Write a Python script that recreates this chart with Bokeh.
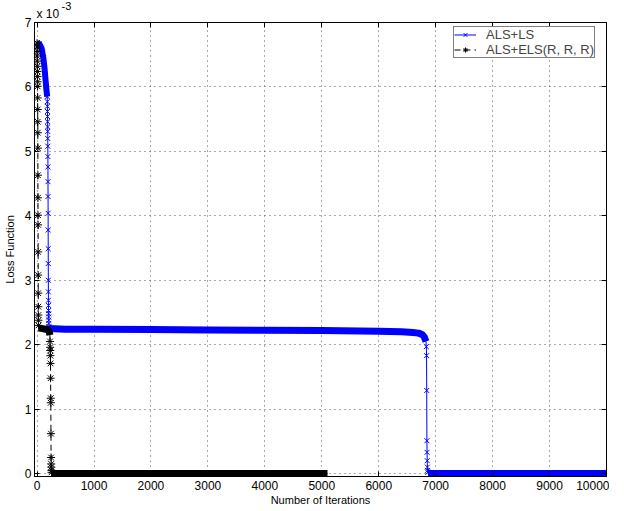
from bokeh.plotting import figure
from bokeh.models import LinearAxis, Range1d, Legend, LegendItem, FixedTicker, Title
from bokeh.embed import file_html
from bokeh.resources import INLINE

FONT = "Liberation Sans"

# ---------------- data ----------------
x_ticks = [0, 1000, 2000, 3000, 4000, 5000, 6000, 7000, 8000, 9000, 10000]
y_ticks = [0, 1, 2, 3, 4, 5, 6, 7]

# ALS+LS (blue)
ls_top_iter = [0, 40, 80, 110, 130, 150, 165, 178]
ls_top_loss = [6.68, 6.67, 6.60, 6.45, 6.30, 6.10, 5.95, 5.85]
ls_drop_iter = [181, 182, 183, 184, 185, 186, 187, 188, 189, 190, 191, 192, 193, 194,
                195, 196, 197, 198, 199, 200, 201, 202, 203, 204, 205, 206, 207]
ls_drop_loss = [5.77, 5.70, 5.62, 5.54, 5.46, 5.38, 5.31, 5.20, 5.08, 4.92, 4.76, 4.53,
                4.30, 4.04, 3.78, 3.49, 3.26, 3.00, 2.82, 2.69, 2.61, 2.53, 2.48, 2.43,
                2.38, 2.33, 2.28]
ls_plateau_iter = [208, 500, 1000, 2000, 3000, 4000, 5000, 6000, 6400, 6600, 6700, 6760, 6800, 6830]
ls_plateau_loss = [2.25, 2.24, 2.24, 2.235, 2.23, 2.225, 2.22, 2.21, 2.20, 2.19, 2.18, 2.16, 2.12, 2.05]
ls_fall_iter = [6836, 6840, 6843, 6846, 6849, 6852, 6855, 6858, 6862]
ls_fall_loss = [1.97, 1.83, 1.29, 0.51, 0.33, 0.20, 0.10, 0.05, 0.02]
ls_tail_iter = [6865, 10000]
ls_tail_loss = [0.0, 0.0]

# ALS+ELS(R, R, R) (black)
els_top_iter = [0, 1, 2, 3, 4, 5, 6, 7, 8, 9, 10, 11, 12, 13, 14, 15, 16, 17, 18, 19,
                20, 21, 22, 23, 24, 25]
els_top_loss = [6.68, 6.62, 6.55, 6.48, 6.40, 6.32, 6.24, 6.16, 6.08, 6.01, 5.83, 5.65,
                5.46, 5.29, 5.05, 4.63, 4.28, 4.01, 3.86, 3.44, 3.08, 2.80, 2.59, 2.46,
                2.38, 2.30]
els_band_iter = [26, 100, 150, 200, 215, 225]
els_band_loss = [2.26, 2.25, 2.24, 2.23, 2.20, 2.15]
els_drop_iter = [228, 230, 232, 234, 236, 238, 240, 242, 244, 246, 248, 250, 252, 254]
els_drop_loss = [2.05, 1.96, 1.91, 1.83, 1.71, 1.48, 1.17, 1.10, 0.62, 0.25, 0.15, 0.10, 0.05, 0.02]
els_tail_iter = [256, 5100]
els_tail_loss = [0.0, 0.0]

BLUE = "#0000ff"
BLACK = "#000000"

p = figure(frame_width=572, frame_height=454,
           min_border_left=33, min_border_right=3, min_border_top=22, min_border_bottom=31,
           x_range=Range1d(-45, 10000), y_range=Range1d(-0.045, 7),
           output_backend="svg", toolbar_location=None)
p.background_fill_color = "white"
p.border_fill_color = "white"
p.outline_line_color = "black"
p.outline_line_width = 1


def style_axis(ax, labels=True):
    ax.axis_line_color = "black"
    ax.axis_line_width = 1
    ax.major_tick_in = 5
    ax.major_tick_out = 0
    ax.minor_tick_line_color = None
    ax.major_tick_line_color = "black"
    ax.major_label_text_font = FONT
    ax.major_label_text_color = "black" if labels else None
    ax.major_label_text_font_size = "12px" if labels else "1px"
    ax.major_label_standoff = 4 if labels else 0
    ax.axis_label_text_font = FONT
    ax.axis_label_text_font_size = "11px"
    ax.axis_label_text_font_style = "normal"
    ax.axis_label_text_color = "black"


p.xaxis.ticker = FixedTicker(ticks=x_ticks)
p.yaxis.ticker = FixedTicker(ticks=y_ticks)
p.xaxis.axis_label = "Number of Iterations"
p.yaxis.axis_label = "Loss Function"
style_axis(p.xaxis[0])
style_axis(p.yaxis[0])
p.yaxis.major_label_standoff = 3
p.xaxis.axis_label_standoff = 1
p.yaxis.axis_label_standoff = 6

# box ticks on the top and right edges (no labels)
top = LinearAxis(ticker=FixedTicker(ticks=x_ticks))
style_axis(top, labels=False)
p.add_layout(top, "above")
right = LinearAxis(ticker=FixedTicker(ticks=y_ticks))
style_axis(right, labels=False)
p.add_layout(right, "right")

# scale factor "x 10^-3" above the y axis
p.add_layout(Title(text="x 10", align="left", offset=2, standoff=3,
                   text_font=FONT, text_font_size="12px", text_font_style="normal",
                   text_color="black"), "above")
p.add_layout(Title(text="-3", align="left", offset=27, standoff=-12,
                   text_font=FONT, text_font_size="11px", text_font_style="normal",
                   text_color="black"), "above")

for g in (p.xgrid[0], p.ygrid[0]):
    g.grid_line_color = "#555555"
    g.grid_line_dash = "1 4"
    g.grid_line_width = 1

# ----- ALS+LS -----
ls_all_iter = ls_top_iter + ls_drop_iter + ls_plateau_iter + ls_fall_iter + ls_tail_iter
ls_all_loss = ls_top_loss + ls_drop_loss + ls_plateau_loss + ls_fall_loss + ls_tail_loss
p.line(ls_top_iter, ls_top_loss, line_color=BLUE, line_width=6)
p.line(ls_plateau_iter, ls_plateau_loss, line_color=BLUE, line_width=7)
p.line(ls_tail_iter, ls_tail_loss, line_color=BLUE, line_width=7)
ls_line = p.line(ls_all_iter, ls_all_loss, line_color=BLUE, line_width=1)
ls_mark = p.scatter(ls_top_iter + ls_drop_iter + ls_fall_iter,
                    ls_top_loss + ls_drop_loss + ls_fall_loss,
                    marker="x", size=7, line_color=BLUE, line_width=1)

# ----- ALS+ELS -----
els_all_iter = els_top_iter + els_band_iter + els_drop_iter + els_tail_iter
els_all_loss = els_top_loss + els_band_loss + els_drop_loss + els_tail_loss
p.line(els_band_iter, els_band_loss, line_color=BLACK, line_width=7)
p.line(els_tail_iter, els_tail_loss, line_color=BLACK, line_width=7)
els_line = p.line(els_all_iter, els_all_loss, line_color=BLACK, line_width=1, line_dash="6 4")
els_mark = p.scatter(els_top_iter + els_drop_iter, els_top_loss + els_drop_loss,
                     marker="asterisk", size=8, line_color=BLACK, line_width=1)

legend = Legend(items=[LegendItem(label="ALS+LS", renderers=[ls_line, ls_mark]),
                       LegendItem(label="ALS+ELS(R, R, R)", renderers=[els_line, els_mark])],
                location=(419, 418))
legend.margin = 0
legend.padding = 0
legend.spacing = 0
legend.label_height = 13
legend.glyph_height = 13
legend.glyph_width = 22
legend.label_standoff = 10
legend.label_text_font = FONT
legend.label_text_font_size = "13px"
legend.border_line_color = "black"
legend.border_line_width = 1
legend.background_fill_color = "white"
legend.background_fill_alpha = 1
p.add_layout(legend, "center")

open("out.html", "w").write(file_html(p, INLINE))
